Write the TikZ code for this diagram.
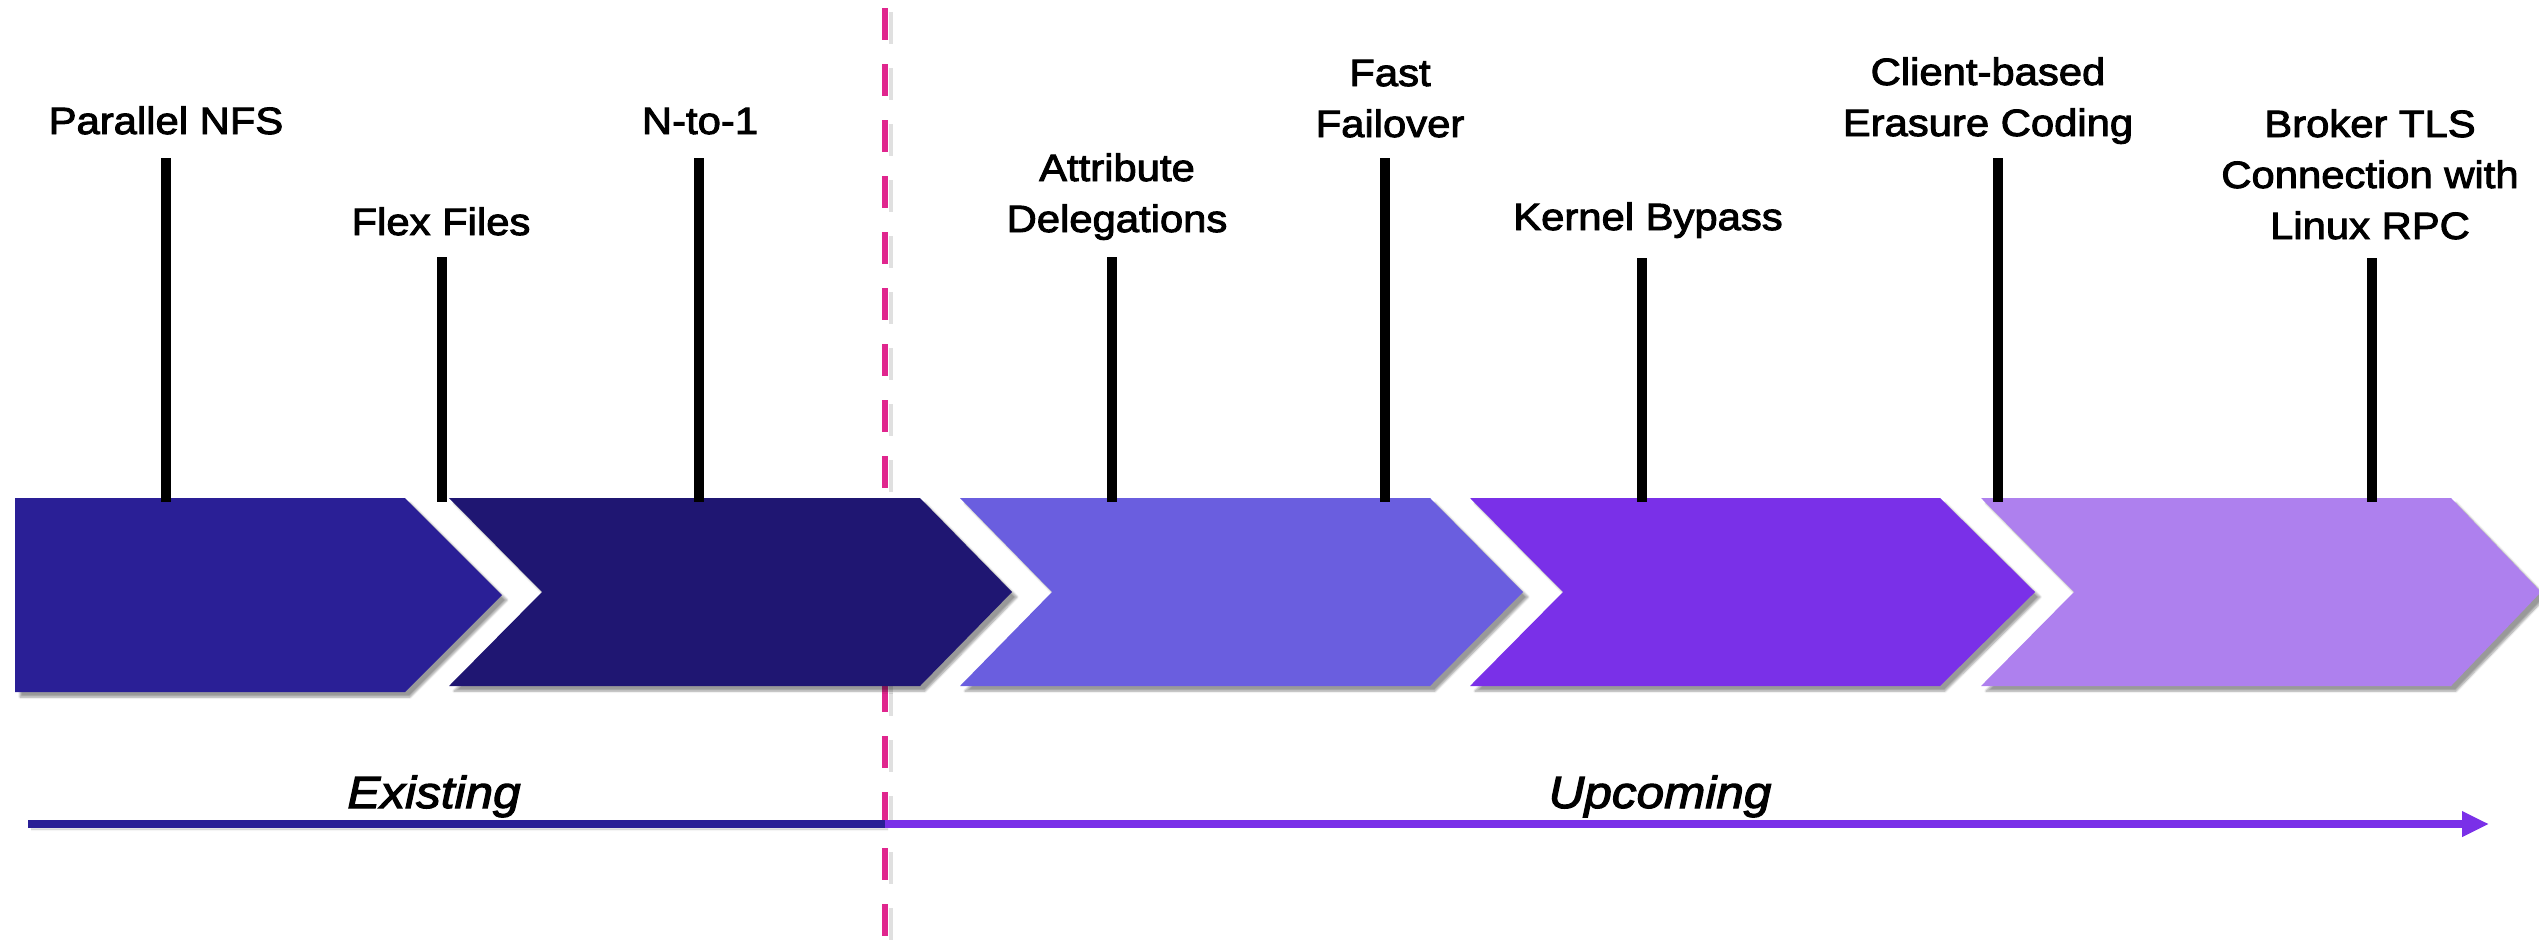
\documentclass[tikz,border=0pt]{standalone}
\usepackage{fontspec}
\setmainfont{Liberation Sans}[FakeStretch=1.1,FakeBold=2.5]
\usetikzlibrary{arrows.meta,shadows.blur}
\definecolor{cone}{HTML}{2A1F96}
\definecolor{ctwo}{HTML}{1F1672}
\definecolor{cthree}{HTML}{6A5EDF}
\definecolor{cfour}{HTML}{7A30E8}
\definecolor{cfive}{HTML}{AE80EE}
\definecolor{cpink}{HTML}{E0268E}
\begin{document}
\begin{tikzpicture}[x=1pt,y=-1pt,
  lbl/.style={font=\fontsize{38}{51}\selectfont, align=center, inner sep=0pt, anchor=base},
  era/.style={font=\fontsize{45}{54}\selectfont\itshape, inner sep=0pt, anchor=base},
  stem/.style={line width=10pt, black},
  chev/.style={blur shadow={shadow xshift=5pt, shadow yshift=-5pt, shadow blur steps=6, shadow opacity=40}},
  divider/.style={line width=6pt, cpink, dash pattern=on 32pt off 24pt, dash phase=48pt},
  tl/.style={line width=8pt}]
\useasboundingbox (0,0) rectangle (2539,948);
% divider
\coordinate (dtop) at (885,0);
\coordinate (dbot) at (885,948);
\draw[line width=4pt, black!12, dash pattern=on 32pt off 24pt, dash phase=44pt] ([xshift=6pt]dtop) -- ([xshift=6pt]dbot);
\draw[divider] (dtop) -- (dbot);
% chevrons
\fill[cone, chev] (15,498) -- (405,498) -- (502,595) -- (405,692) -- (15,692) -- cycle;
\fill[ctwo, chev] (449,498) -- (920,498) -- (1012,592) -- (920,686) -- (449,686) -- (542,592) -- cycle;
\fill[cthree, chev] (960,498) -- (1430,498) -- (1523,592) -- (1430,686) -- (960,686) -- (1052,592) -- cycle;
\fill[cfour, chev] (1470,498) -- (1940,498) -- (2035,592) -- (1940,686) -- (1470,686) -- (1563,592) -- cycle;
\fill[cfive, chev] (1981,498) -- (2451,498) -- (2541,592) -- (2451,686) -- (1981,686) -- (2074,592) -- cycle;
% labels
\node[lbl] (pnfs) at (166,134) {Parallel NFS};
\node[lbl] (flex) at (441,235) {Flex Files};
\node[lbl] (nto1) at (700,134) {N-to-1};
\node[lbl] (attr) at (1117,232) {Attribute\\Delegations};
\node[lbl] (fast) at (1390,137) {Fast\\Failover};
\node[lbl] (kern) at (1648,230) {Kernel Bypass};
\node[lbl] (eras) at (1988,136) {Client-based\\Erasure Coding};
\node[lbl] (brok) at (2370,239) {Broker TLS\\Connection with\\Linux RPC};
% stems
\foreach \n/\x/\t in {a/166/158, b/442/257, c/699/158, d/1112/257, e/1385/158, f/1642/258, g/1998/158, h/2372/258}{
  \coordinate (\n top) at (\x,\t);
  \coordinate (\n bot) at (\x,502);
  \draw[stem] (\n top) -- (\n bot);
}
% timeline
\coordinate (t0) at (28,824);
\coordinate (tm) at (885,824);
\coordinate (t1) at (2489,824);
\draw[tl, cone, blur shadow={shadow xshift=3pt, shadow yshift=-5pt, shadow opacity=30}] (t0) -- (tm);
\draw[tl, cfour, -{Triangle[length=27pt,width=24pt]}] (tm) -- (t1);
\node[era] (exist) at (434,808) {Existing};
\node[era] (upc) at (1660,808) {Upcoming};
\end{tikzpicture}
\end{document}
